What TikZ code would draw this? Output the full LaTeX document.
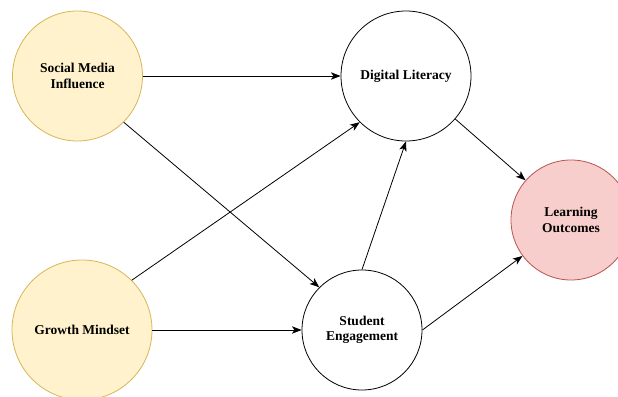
\documentclass[tikz,border=0pt]{standalone}
\usepackage{fontspec}
\setmainfont{Liberation Serif}
\usepackage{xcolor}
\usepackage{tikz}
\usetikzlibrary{arrows.meta,positioning,shapes.geometric,calc}

\definecolor{predfill}{HTML}{FFF2CC}
\definecolor{preddraw}{HTML}{D6B656}
\definecolor{outfill}{HTML}{F8CECC}
\definecolor{outdraw}{HTML}{B85450}

\begin{document}
\begin{tikzpicture}[
x=1pt,
y=-1pt,
every node/.style={font=\fontsize{13.5}{15.5}\selectfont\bfseries},
predictor/.style={circle,draw=preddraw,fill=predfill,line width=0.8pt,align=center,inner sep=2pt},
mediator/.style={circle,draw=black,fill=white,line width=0.8pt,align=center,inner sep=2pt},
outcome/.style={circle,draw=outdraw,fill=outfill,line width=0.8pt,align=center,inner sep=2pt},
arr/.style={-{Stealth[length=3.4mm,width=2.6mm,inset=0.9mm]},line width=0.8pt,draw=black}
]
\useasboundingbox (0,0) rectangle (618,396);

\node[predictor,minimum size=130pt] (social) at (77.5,76) {Social Media\\Influence};
\node[predictor,minimum size=140pt] (growth) at (82,330) {Growth Mindset};
\node[mediator,minimum size=130pt] (digital) at (406,76) {Digital Literacy};
\node[mediator,minimum size=120pt] (engage) at (362,330) {Student\\Engagement};
\node[outcome,minimum size=120pt] (learn) at (571,220) {Learning\\Outcomes};

\draw[arr] (social.east) -- (digital.west);
\draw[arr] (social.south east) -- (engage.north west);
\draw[arr] (growth.north east) -- (digital.south west);
\draw[arr] (growth.east) -- (engage.west);
\draw[arr] (engage.north) -- (digital.south);
\draw[arr] (digital) -- (learn);
\draw[arr] (engage.east) -- (learn);
\end{tikzpicture}
\end{document}
